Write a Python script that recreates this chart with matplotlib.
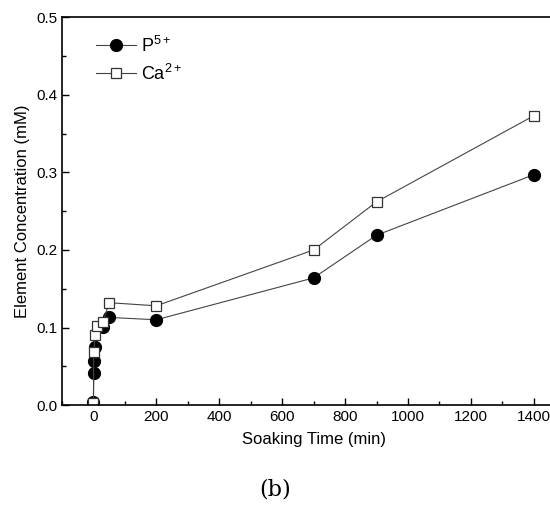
import matplotlib
matplotlib.use("Agg")
import matplotlib.pyplot as plt
from matplotlib.ticker import MultipleLocator

plt.rcParams['font.family'] = ['Liberation Sans', 'DejaVu Sans']

# soaking time (min) and concentrations (mM)
t_p = [0, 1, 3, 5, 30, 50, 200, 700, 900, 1400]
p5 = [0.004, 0.042, 0.057, 0.075, 0.101, 0.113, 0.110, 0.164, 0.219, 0.297]
t_ca = [0, 1, 5, 10, 30, 50, 200, 700, 900, 1400]
ca2 = [0.003, 0.068, 0.090, 0.102, 0.107, 0.132, 0.128, 0.200, 0.262, 0.373]

fig = plt.figure(figsize=(5.5, 5.07), dpi=100)
# right spine falls outside the picture, as in the source
ax = fig.add_axes([0.1127, 0.201, 0.915, 0.765])

ax.plot(t_p, p5, '-o', color='#444444', lw=0.8, mfc='black', mec='black', ms=8.5,
        label=r'$\mathregular{P^{5+}}$')
ax.plot(t_ca, ca2, '-s', color='#444444', lw=0.8, mfc='white', mec='#333333', mew=0.9, ms=7,
        label=r'$\mathregular{Ca^{2+}}$')

ax.set_xlim(-100, 1500)
ax.set_ylim(0, 0.5)
ax.xaxis.set_major_locator(MultipleLocator(200))
ax.xaxis.set_minor_locator(MultipleLocator(100))
ax.yaxis.set_major_locator(MultipleLocator(0.1))
ax.yaxis.set_minor_locator(MultipleLocator(0.05))
ax.yaxis.set_major_formatter(plt.FormatStrFormatter('%.1f'))
ax.tick_params(which='both', direction='in', labelsize=11)
ax.tick_params(which='major', length=5, width=1)
ax.tick_params(which='minor', length=3, width=1)
for s in ax.spines.values():
    s.set_linewidth(1.2)

ax.set_xlabel('Soaking Time (min)', fontsize=12, labelpad=6)
ax.set_ylabel('Element Concentration (mM)', fontsize=12, labelpad=4)

ax.legend(loc='upper left', frameon=False, fontsize=13, handlelength=2.2,
          handletextpad=0.3, bbox_to_anchor=(0.035, 0.995), labelspacing=0.45)

fig.text(0.5, 0.035, '(b)', ha='center', va='center', fontsize=16, family=['DejaVu Serif'])

plt.savefig('out.png', dpi=100)
